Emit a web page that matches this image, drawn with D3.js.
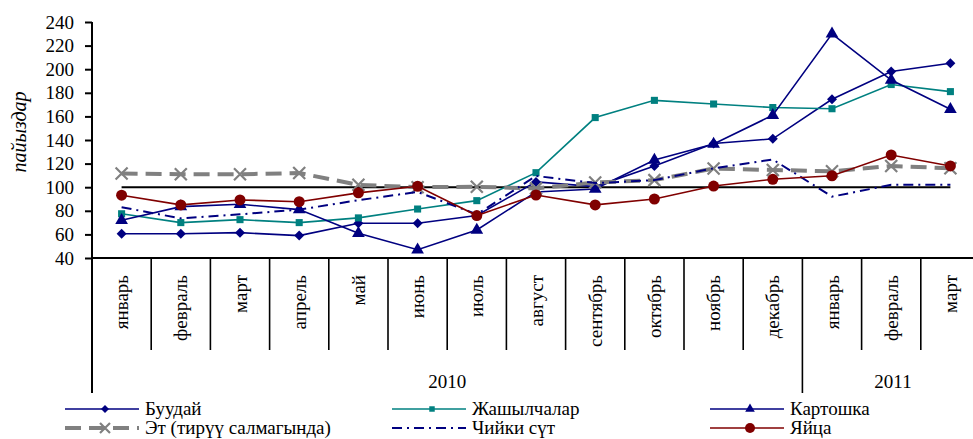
<!DOCTYPE html>
<html>
<head>
<meta charset="utf-8">
<script src="https://cdn.jsdelivr.net/npm/d3@7"></script>
<style>
  html, body { margin: 0; padding: 0; background: #fff; }
  svg { display: block; font-family: "Liberation Serif", "Times New Roman", serif; }
</style>
</head>
<body>
<svg id="chart" width="973" height="439"></svg>
<script>
// ---- data ----
const months = ["январь","февраль","март","апрель","май","июнь","июль","август","сентябрь","октябрь","ноябрь","декабрь","январь","февраль","март"];
const yearLabels = ["2010", "2011"];
const yearMonthCounts = [12, 3];
const yTicks = [40, 60, 80, 100, 120, 140, 160, 180, 200, 220, 240];
const baseline = 100;

const buudai     = [60.6, 60.5, 61.5, 59, 69.5, 69.5, 76, 104.5, 100.5, 118, 137, 141, 174.5, 198, 205];
const vegetables = [77.5, 70, 72.5, 70, 74, 81.5, 88.6, 112.3, 159, 173.6, 170.5, 167.5, 166.5, 187, 181];
const potato     = [72, 83.5, 85.5, 81, 61, 47, 63.7, 96, 98.5, 123, 136.6, 161, 230, 190.8, 166];
const meat       = [111.6, 111, 111, 112, 102, 100, 100.3, 99, 104, 106, 115.8, 114.6, 113.5, 118, 116];
const milk       = [83, 73.6, 77, 81, 89, 96, 77, 109.5, 103.5, 106, 116, 123.5, 92, 102, 102];
const eggs       = [93.2, 85, 89.2, 87.7, 95.2, 100.8, 76, 93.4, 85, 90, 101, 106.7, 109.7, 127.3, 118];

const seriesNames = ["Буудай", "Жашылчалар", "Картошка", "Эт (тирүү салмагында)", "Чийки сүт", "Яйца"];

// ---- styles ----
const styles = [
  { data: buudai,     color: "#000080", width: 1.6, dash: null,         marker: "diamond", size: 5 },
  { data: vegetables, color: "#008080", width: 1.6, dash: null,         marker: "square",  size: 50 },
  { data: potato,     color: "#000080", width: 1.6, dash: null,         marker: "triangle",size: 70 },
  { data: meat,       color: "#808080", width: 4,   dash: "16,8",       marker: "x",       size: 6 },
  { data: milk,       color: "#000080", width: 2,   dash: "10,5,2,5",   marker: null,      size: 0 },
  { data: eggs,       color: "#800000", width: 1.6, dash: null,         marker: "circle",  size: 5.5 }
];

const svg = d3.select("#chart");
const pLeft = 92, pRight = 980, pTop = 22, pBottom = 258;

const x = d3.scaleBand().domain(d3.range(months.length)).range([pLeft, pRight]).padding(0);
const y = d3.scaleLinear().domain([40, 240]).range([pBottom, pTop]);
const cx = i => x(i) + x.bandwidth() / 2;

// y axis
const yAxis = d3.axisLeft(y).tickValues(yTicks).tickSizeInner(7).tickSizeOuter(0).tickPadding(11);
const gy = svg.append("g").attr("transform", `translate(${pLeft},0)`).call(yAxis);
gy.select(".domain").remove();
gy.selectAll(".tick line").attr("stroke", "#000").attr("stroke-width", 2);
gy.selectAll(".tick text").attr("font-size", 19).attr("font-family", "Liberation Serif, serif").attr("fill", "#000");

// axis lines
svg.append("line").attr("x1", pLeft).attr("x2", pLeft).attr("y1", pTop).attr("y2", 393)
  .attr("stroke", "#000").attr("stroke-width", 2);
svg.append("line").attr("x1", pLeft).attr("x2", pRight).attr("y1", pBottom).attr("y2", pBottom)
  .attr("stroke", "#000").attr("stroke-width", 2);

// category separators
const yearBoundaries = Array.from(d3.cumsum(yearMonthCounts));
for (let k = 1; k < months.length; k++) {
  const isYear = yearBoundaries.includes(k);
  svg.append("line").attr("x1", x(k)).attr("x2", x(k))
    .attr("y1", pBottom).attr("y2", isYear ? 393 : 350)
    .attr("stroke", "#000").attr("stroke-width", 1.6);
}

// month labels
svg.append("g").selectAll("text").data(months).join("text")
  .attr("transform", (d, i) => `translate(${cx(i)},275) rotate(-90)`)
  .attr("text-anchor", "end").attr("dy", "0.35em")
  .attr("font-size", 19).text(d => d);

// year labels
let startIdx = 0;
yearLabels.forEach((lab, j) => {
  const endIdx = startIdx + yearMonthCounts[j];
  const xm = j === 0 ? (x(startIdx) + x(endIdx)) / 2 : 893;
  svg.append("text").attr("x", xm).attr("y", 388).attr("text-anchor", "middle")
    .attr("font-size", 19).text(lab);
  startIdx = endIdx;
});

// y axis title
svg.append("text").attr("transform", "translate(26,132) rotate(-90)")
  .attr("text-anchor", "middle").attr("font-size", 20).attr("font-style", "italic")
  .text("пайыздар");

// 100 reference line
svg.append("line").attr("x1", cx(0)).attr("x2", cx(months.length - 1))
  .attr("y1", y(baseline)).attr("y2", y(baseline))
  .attr("stroke", "#000").attr("stroke-width", 2);

// marker drawing helper
function drawMarker(g, type, px, py, color, size) {
  if (!type) return;
  if (type === "circle") {
    g.append("circle").attr("cx", px).attr("cy", py).attr("r", size).attr("fill", color);
  } else if (type === "x") {
    g.append("path").attr("d", `M${px - size},${py - size}L${px + size},${py + size}M${px - size},${py + size}L${px + size},${py - size}`)
      .attr("stroke", color).attr("stroke-width", 2.2).attr("fill", "none");
  } else if (type === "diamond") {
    g.append("path").attr("d", `M${px},${py - size}L${px + size},${py}L${px},${py + size}L${px - size},${py}Z`)
      .attr("fill", color);
  } else {
    const sym = { square: d3.symbolSquare, triangle: d3.symbolTriangle }[type];
    g.append("path").attr("transform", `translate(${px},${py})`)
      .attr("d", d3.symbol().type(sym).size(size)()).attr("fill", color);
  }
}

const line = d3.line().x((d, i) => cx(i)).y(d => y(d));
styles.forEach(s => {
  const g = svg.append("g");
  g.append("path").datum(s.data).attr("d", line).attr("fill", "none")
    .attr("stroke", s.color).attr("stroke-width", s.width)
    .attr("stroke-dasharray", s.dash);
  s.data.forEach((v, i) => drawMarker(g, s.marker, cx(i), y(v), s.color, s.size));
});

// legend
const legCols = [65, 392, 710];
const legRows = [409, 428];
const legMarkerSize = { diamond: 4, square: 30, triangle: 40, x: 5, circle: 5 };
styles.forEach((s, k) => {
  const lx = legCols[k % 3], ly = legRows[Math.floor(k / 3)];
  const g = svg.append("g");
  g.append("line").attr("x1", lx).attr("x2", lx + 74).attr("y1", ly).attr("y2", ly)
    .attr("stroke", s.color).attr("stroke-width", s.width).attr("stroke-dasharray", s.dash);
  drawMarker(g, s.marker, lx + 40, ly, s.color, legMarkerSize[s.marker]);
  g.append("text").attr("x", lx + 80).attr("y", ly + 6).attr("font-size", 19).text(seriesNames[k]);
});
</script>
</body>
</html>
